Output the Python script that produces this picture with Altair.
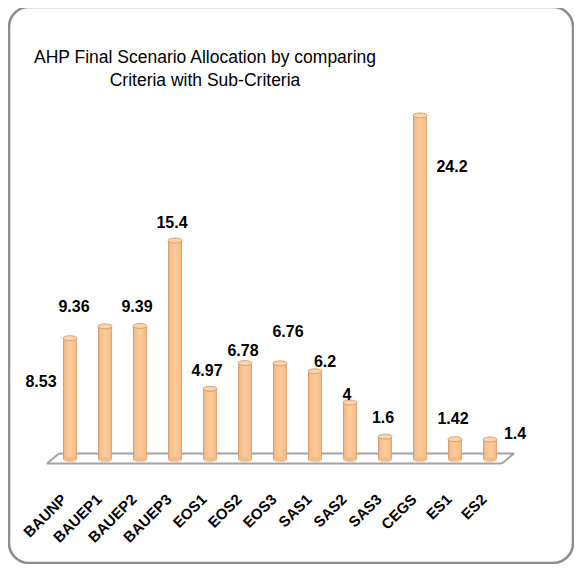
import altair as alt
import pandas as pd

# ---- data ----
categories = ["BAUNP", "BAUEP1", "BAUEP2", "BAUEP3", "EOS1", "EOS2", "EOS3",
              "SAS1", "SAS2", "SAS3", "CEGS", "ES1", "ES2"]
values = [8.53, 9.36, 9.39, 15.4, 4.97, 6.78, 6.76, 6.2, 4, 1.6, 24.2, 1.42, 1.4]
value_labels = ["8.53", "9.36", "9.39", "15.4", "4.97", "6.78", "6.76",
                "6.2", "4", "1.6", "24.2", "1.42", "1.4"]
title_lines = ["AHP Final Scenario Allocation by comparing", "Criteria with Sub-Criteria"]

# ---- style: label placement offsets (dx, dy) like the Excel original ----
label_offsets = {
    "BAUNP": (-29, 44), "BAUEP1": (-31, -19), "BAUEP2": (-3, -19), "BAUEP3": (-3, -18),
    "EOS1": (-3, -18), "EOS2": (-2, -12), "EOS3": (8, -31), "SAS1": (10, -9),
    "SAS2": (-3, -8), "SAS3": (-2, -19), "CEGS": (32, 52), "ES1": (-2, -20),
    "ES2": (25, -6),
}

df = pd.DataFrame({"scenario": categories, "score": values, "label": value_labels})

W, H = 455, 398
FONT = "Liberation Sans"

x_enc = alt.X(
    "scenario:N", sort=categories,
    scale=alt.Scale(paddingInner=0, paddingOuter=0),
    axis=alt.Axis(title=None, domain=False, ticks=False, labelAngle=-45,
                  labelAlign="right", labelBaseline="middle", labelPadding=37,
                  labelOffset=-6,
                  labelFont=FONT, labelFontSize=15, labelFontWeight="bold",
                  labelColor="black"),
)
y_enc = alt.Y("score:Q", scale=alt.Scale(domain=[0, 28], nice=False), axis=None)

grad = alt.LinearGradient(
    gradient="linear", x1=0, x2=1, y1=0, y2=0,
    stops=[
        alt.GradientStop(offset=0, color="#c99468"),
        alt.GradientStop(offset=0.12, color="#f3bc8b"),
        alt.GradientStop(offset=0.5, color="#fecb99"),
        alt.GradientStop(offset=0.88, color="#f5be8d"),
        alt.GradientStop(offset=1, color="#d3a074"),
    ],
)
ellipse = "M-1,0A1,0.35,0,1,1,1,0A1,0.35,0,1,1,-1,0Z"

base = alt.Chart(df)

floor_color = "#a3a3a3"
fl = base.transform_filter(alt.datum.scenario == categories[0])
floor = [
    fl.mark_rule(color=floor_color, strokeWidth=2).encode(
        x=alt.value(-5.5), x2=alt.value(449.5), y=alt.value(H + 4)),
    fl.mark_rule(color=floor_color, strokeWidth=2).encode(
        x=alt.value(6.5), x2=alt.value(461.5), y=alt.value(H - 6)),
    fl.mark_rule(color=floor_color, strokeWidth=2).encode(
        x=alt.value(-5.5), x2=alt.value(6.5), y=alt.value(H + 4), y2=alt.value(H - 6)),
    fl.mark_rule(color=floor_color, strokeWidth=2).encode(
        x=alt.value(449.5), x2=alt.value(461.5), y=alt.value(H + 4), y2=alt.value(H - 6)),
]

bars = base.mark_bar(width=14, color=grad).encode(x=x_enc, y=y_enc)
bottoms = base.mark_point(shape=ellipse, size=196, filled=True, color="#f3bc8b",
                          strokeWidth=0, opacity=1).encode(x=x_enc, y=alt.value(H))
tops = base.mark_point(shape=ellipse, size=196, filled=True, fill="#fdd3ac",
                       stroke="#c99468", strokeWidth=0.8, opacity=1).encode(x=x_enc, y=y_enc)

texts = []
for cat in categories:
    dx, dy = label_offsets[cat]
    texts.append(
        base.transform_filter(alt.datum.scenario == cat)
        .mark_text(dx=dx, dy=dy, font=FONT, fontSize=16, fontWeight="bold",
                   color="black", align="center", baseline="middle")
        .encode(x=x_enc, y=y_enc, text="label:N")
    )

frame = fl.mark_rect(filled=False, stroke="#8c8c8c", strokeWidth=2.5,
                     cornerRadius=20).encode(
    x=alt.value(-43.5), x2=alt.value(520.5), y=alt.value(-54.4), y2=alt.value(501.6))

chart = alt.layer(*floor, bars, bottoms, tops, *texts, frame).properties(
    width=W, height=H,
    background="white",
    autosize=alt.AutoSizeParams(type="none"),
    padding={"left": 44.5, "top": 53.4, "right": 66.5, "bottom": 104.6},
    title=alt.TitleParams(text=title_lines, anchor="middle", frame="group",
                          dx=-75, dy=84, offset=0, font=FONT, fontSize=17.5,
                          fontWeight="normal", color="black", lineHeight=23),
).configure_view(strokeWidth=0, stroke="transparent")

chart.save("out.html", embed_options={"renderer": "svg", "actions": False})
